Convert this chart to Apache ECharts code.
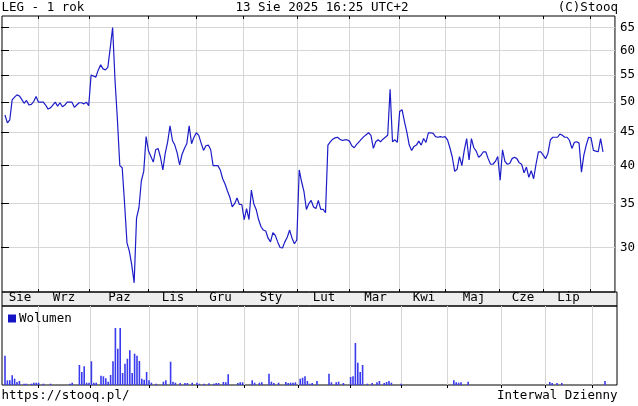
<!DOCTYPE html>
<html><head><meta charset="utf-8">
<script src="https://cdn.jsdelivr.net/npm/echarts@6/dist/echarts.min.js"></script>
<style>html,body{margin:0;padding:0;background:#fff}#c{width:638px;height:406px}</style>
</head><body><div id="c"></div>
<script>
const chartTitle = 'LEG - 1 rok';
const stamp = '13 Sie 2025 16:25 UTC+2';
const copyright = '(C)Stooq';
const sourceUrl = 'https://stooq.pl/';
const intervalText = 'Interwal Dzienny';
const volumeName = 'Wolumen';
const monthNames = ['Sie','Wrz','Paz','Lis','Gru','Sty','Lut','Mar','Kwi','Maj','Cze','Lip'];
// month boundaries expressed in trading-day index
const monthStarts = [13.75, 35.4, 60, 80, 99.6, 122.1, 143.75, 165, 184.2, 206.7, 225, 244.6];
const priceTicks = [30, 35, 40, 45, 50, 55, 60, 65];
// daily close prices
const close = [
47.8,46.5,47.0,50.4,50.9,51.3,51.1,50.5,49.8,50.3,
49.5,49.6,50.1,51.0,50.0,50.0,50.0,49.5,48.8,49.0,
49.5,50.0,49.3,49.9,49.2,49.5,50.0,50.0,50.0,49.1,
49.5,49.9,49.9,49.7,50.0,49.4,55.0,54.8,54.6,56.0,
57.0,56.2,56.0,56.5,60.5,65.0,54.0,47.0,40.0,39.7,
35.0,30.5,29.6,28.2,26.5,33.3,34.5,37.9,39.2,44.3,
42.1,41.3,40.5,42.3,42.5,41.2,39.4,41.8,43.5,46.0,
43.7,43.0,41.8,40.1,41.6,42.5,43.2,46.0,43.2,44.2,
44.9,44.5,43.3,42.2,42.9,43.0,42.3,40.0,40.0,40.0,
39.4,38.2,37.5,36.6,35.8,34.6,35.0,35.7,34.9,34.9,
33.1,34.4,33.1,36.7,35.0,34.3,33.1,32.3,31.9,31.8,
31.0,30.6,31.6,31.3,30.6,30.0,29.95,30.6,31.1,31.9,
31.0,30.4,30.8,39.4,37.8,36.5,34.3,35.0,35.4,34.6,
34.4,35.4,34.3,34.3,33.9,43.0,43.5,43.9,44.1,44.2,
43.9,43.7,43.8,43.8,43.6,42.9,42.6,43.1,43.5,43.9,
44.3,44.6,44.9,44.5,42.5,43.5,43.8,43.5,43.9,44.2,
44.5,52.3,43.5,43.8,43.4,48.4,48.7,46.7,45.0,43.0,
42.2,42.8,43.0,43.6,43.0,44.0,43.4,44.9,44.9,44.8,
44.3,44.2,44.3,44.2,44.3,43.8,42.6,41.2,39.2,39.5,
41.3,40.0,42.2,44.0,40.8,44.0,42.6,42.1,41.2,41.5,
42.0,42.0,41.0,40.2,40.2,40.6,41.3,38.0,42.3,40.6,
40.2,40.3,41.0,41.2,41.0,40.4,40.2,39.0,39.8,38.4,
39.3,38.2,40.2,42.0,42.0,41.5,41.0,41.8,43.8,44.2,
44.2,44.2,44.7,44.5,44.2,44.2,43.7,42.5,43.4,43.5,
43.3,39.1,41.5,43.0,44.2,44.1,42.2,42.1,42.0,44.0,
42.0
];
// volume (thousands of shares) on the days where it is visible
const volDay = [0,1,2,3,4,5,6,8,9,11,12,13,14,16,19,27,28,31,32,33,34,35,36,37,38,40,41,42,43,44,45,46,47,48,49,50,51,52,53,54,55,56,57,58,59,60,61,63,66,67,69,70,71,73,75,76,78,80,81,83,85,87,88,89,91,92,93,97,98,99,103,104,106,107,110,111,112,114,117,118,119,120,121,123,124,125,126,127,128,130,135,136,138,139,141,144,145,146,147,148,149,151,153,155,156,158,159,160,161,165,187,188,189,190,193,227,228,230,232,250];
const volValue = [2930,470,470,970,630,300,400,130,130,130,230,230,230,130,130,130,230,2000,1300,1870,230,230,2370,230,230,930,870,670,330,1000,2370,5700,3630,5700,1200,2130,2630,3470,1200,3130,2930,2400,630,530,1300,470,230,130,330,470,2330,330,230,200,200,200,230,230,130,130,170,130,200,200,300,270,1070,200,270,270,470,230,230,270,1130,330,200,230,300,200,230,230,270,630,730,870,400,130,200,400,1130,270,270,330,200,800,870,4200,2230,1300,2000,130,200,270,400,200,300,400,230,130,470,270,230,270,330,300,200,200,200,400];

const FONT = "'DejaVu Sans Mono', monospace";
const FS = 12.5;
const dayMin = -1.25, dayMax = 255;

const mids = monthNames.map((n, k) => k === 0 ? (dayMin + monthStarts[0]) / 2 : (monthStarts[k - 1] + monthStarts[k]) / 2);
const monthFmt = v => { for (let k = 0; k < mids.length; k++) if (Math.abs(mids[k] - v) < 0.01) return monthNames[k]; return ''; };

const priceData = close.map((v, i) => [i, v]);
const volData = volDay.map((d, k) => [d, volValue[k]]);

const gridLine = { show: true, lineStyle: { color: '#d6d6d6', width: 1 } };
const tickStyle = { color: '#000', width: 1 };

const chart = echarts.init(document.getElementById('c'), null, { renderer: 'canvas' });
chart.setOption({
  animation: false,
  backgroundColor: '#fff',
  textStyle: { fontFamily: FONT },
  grid: [
    { left: 2, right: 21, top: 16, bottom: 114, show: true, borderColor: '#000', borderWidth: 1, containLabel: false },
    { left: 2, right: 21, top: 306, bottom: 21, show: true, borderColor: '#000', borderWidth: 1, containLabel: false }
  ],
  xAxis: [
    { gridIndex: 0, type: 'value', min: dayMin, max: dayMax, position: 'bottom',
      axisLine: { show: false }, axisTick: { show: true, inside: true, length: 3, customValues: monthStarts, lineStyle: tickStyle },
      axisLabel: { show: false }, splitLine: gridLine },
    { gridIndex: 0, type: 'value', min: dayMin, max: dayMax, position: 'top',
      axisLine: { show: false }, axisTick: { show: true, inside: true, length: 3, customValues: monthStarts, lineStyle: tickStyle },
      axisLabel: { show: false }, splitLine: { show: false } },
    { gridIndex: 1, type: 'value', min: dayMin, max: dayMax, position: 'top',
      axisLine: { show: false }, axisTick: { show: true, inside: true, length: 3, customValues: monthStarts, lineStyle: tickStyle },
      axisLabel: { show: true, customValues: mids, formatter: monthFmt, margin: 2, color: '#000', fontFamily: FONT, fontSize: FS },
      splitLine: gridLine }
  ],
  yAxis: [
    { gridIndex: 0, type: 'log', min: 25.66, max: 67.68, position: 'right',
      axisLine: { show: false }, axisTick: { show: true, inside: true, length: 4, customValues: priceTicks, lineStyle: tickStyle },
      axisLabel: { show: true, customValues: priceTicks, margin: 5, color: '#000', fontFamily: FONT, fontSize: FS },
      splitLine: gridLine },
    { gridIndex: 0, type: 'log', min: 25.66, max: 67.68, position: 'left',
      axisLine: { show: false }, axisTick: { show: true, inside: true, length: 4, customValues: priceTicks, lineStyle: tickStyle },
      axisLabel: { show: false }, splitLine: { show: false } },
    { gridIndex: 1, type: 'value', min: 0, max: 7900, show: false, splitLine: { show: false } }
  ],
  legend: {
    data: [volumeName], left: 8, top: 312, padding: 0, icon: 'rect', itemWidth: 8, itemHeight: 8, itemGap: 2,
    selectedMode: false,
    itemStyle: { color: '#1414c4' },
    textStyle: { color: '#000', fontFamily: FONT, fontSize: FS, padding: [0, 0, 0, -2] }
  },
  graphic: [
    { type: 'rect', z: -5, shape: { x: 2, y: 292, width: 615, height: 14 }, style: { fill: '#eeeeee', stroke: '#000', lineWidth: 1 } },
    { type: 'text', x: 1.5, y: 8, style: { text: chartTitle, font: FS + 'px ' + FONT, fill: '#000', textAlign: 'left', textVerticalAlign: 'middle' } },
    { type: 'text', x: 322, y: 8, style: { text: stamp, font: FS + 'px ' + FONT, fill: '#000', textAlign: 'center', textVerticalAlign: 'middle' } },
    { type: 'text', x: 618, y: 8, style: { text: copyright, font: FS + 'px ' + FONT, fill: '#000', textAlign: 'right', textVerticalAlign: 'middle' } },
    { type: 'text', x: 1.5, y: 395.5, style: { text: sourceUrl, font: FS + 'px ' + FONT, fill: '#000', textAlign: 'left', textVerticalAlign: 'middle' } },
    { type: 'text', x: 617.5, y: 395.5, style: { text: intervalText, font: FS + 'px ' + FONT, fill: '#000', textAlign: 'right', textVerticalAlign: 'middle' } }
  ],
  series: [
    { name: 'LEG', type: 'line', xAxisIndex: 0, yAxisIndex: 0, data: priceData, showSymbol: false, symbol: 'none',
      lineStyle: { color: '#1c1cc8', width: 1.2 }, z: 5 },
    { name: volumeName, type: 'bar', xAxisIndex: 2, yAxisIndex: 2, data: volData, barWidth: 1.6,
      itemStyle: { color: '#3a3aee' } }
  ]
});
</script>
</body></html>
